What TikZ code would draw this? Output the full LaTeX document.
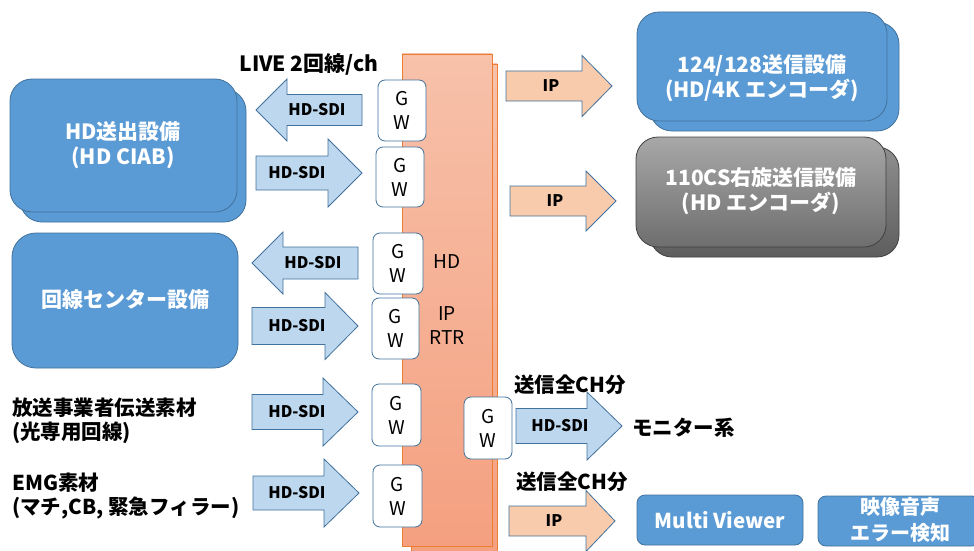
\documentclass[tikz,border=0pt]{standalone}
\usepackage{fontspec}
\setmainfont{Noto Sans CJK JP}
\definecolor{bordblue}{RGB}{65,113,156}
\definecolor{boxblue}{RGB}{91,155,213}
\definecolor{sdiblue}{RGB}{189,215,238}
\definecolor{ipfill}{RGB}{248,203,173}
\definecolor{rtrborder}{RGB}{237,125,49}
\definecolor{rtrtop}{RGB}{247,193,170}
\definecolor{rtrbot}{RGB}{244,160,128}
\definecolor{graytop}{RGB}{168,168,168}
\definecolor{graybot}{RGB}{110,110,110}
\newcommand\rarrow[8]{% style, left, headbase, tip, cy, halfbody, halfhead, name
  \draw[#1] (#2,{#5-#6}) -- (#3,{#5-#6}) -- (#3,{#5-#7}) -- (#4,#5) -- (#3,{#5+#7}) -- (#3,{#5+#6}) -- (#2,{#5+#6}) -- cycle;
  \coordinate (#8) at ({(#2+#3)/2},#5);}
\begin{document}
\begin{tikzpicture}[x=1pt,y=-1pt,
  bluebox/.style={draw=bordblue,fill=boxblue,line width=0.8pt,rounded corners=#1},
  bluebox/.default=20pt,
  gwbox/.style={draw=bordblue,fill=white,line width=0.8pt,rounded corners=7pt},
  gwtext/.style={font=\fontsize{19}{24}\selectfont,align=center,inner sep=0pt},
  sdiarrow/.style={draw=bordblue,fill=sdiblue,line width=0.8pt},
  iparrow/.style={draw=bordblue,fill=ipfill,line width=0.8pt},
  arrlabel/.style={font=\bfseries\fontsize{16}{18}\selectfont,inner sep=0pt},
  wtext/.style={text=white,font=\bfseries\fontsize{21}{25}\selectfont,align=center,inner sep=0pt},
  btext/.style={text=black,font=\bfseries\fontsize{20.5}{24}\selectfont,align=left,inner sep=0pt},
  rtr/.style={draw=rtrborder,line width=0.8pt,top color=rtrtop,bottom color=rtrbot},
]
\useasboundingbox (0,0) rectangle (974,551);

% IP router
\draw[rtr] (411,64) rectangle (497,560);
\draw[rtr] (402,54) rectangle (492,546);
\node[gwtext] (rtrhd) at (447,262) {HD};
\node[gwtext,align=center] (rtrip) at (447,326) {IP\\RTR};

% GW boxes
\foreach \n/\xa/\ya/\xb/\yb in {g1/378/80/426/141, g2/376/147/424/207, g3/373/233/423/294, g4/372/298/419/359, g5/372/384/421/446, g6/373/465/422/527, g7/464/397/512/459}{
  \draw[gwbox] (\xa,\ya) rectangle (\xb,\yb);
  \node[gwtext] (\n) at ({(\xa+\xb)/2},{(\ya+\yb)/2}) {G\\W};
}

% Left boxes
\draw[bluebox=22pt] (20,89) rectangle (246,222);
\draw[bluebox=22pt] (10,79) rectangle (237,212);
\node[wtext] (hdout) at (123,145.5) {HD送出設備\\(HD CIAB)};
\draw[bluebox=24pt] (12,233) rectangle (238,368);
\node[wtext] (center) at (125,300) {回線センター設備};

\node[btext,anchor=west] (houso) at (12,421) {放送事業者伝送素材\\(光専用回線)};
\node[btext,anchor=west] (emg) at (12,496.5) {EMG素材\\(マチ,CB, 緊急フィラー)};
\node[text=black,font=\bfseries\fontsize{21}{24}\selectfont,inner sep=0pt] (live) at (309,64) {LIVE 2回線/ch};

% HD-SDI arrows
\rarrow{sdiarrow}{362}{287}{256}{110}{15.5}{31}{a1}
\rarrow{sdiarrow}{256}{328}{362}{173}{17}{34}{a2}
\rarrow{sdiarrow}{358}{283}{252}{263}{16}{31}{a3}
\rarrow{sdiarrow}{252}{325}{358}{326}{18.5}{33.5}{a4}
\rarrow{sdiarrow}{252}{323}{358}{412}{17.5}{34}{a5}
\rarrow{sdiarrow}{253}{324}{359}{493}{17}{34}{a6}
\rarrow{sdiarrow}{516}{587}{622}{426}{17.5}{34}{a7}
\node[arrlabel] (t1) at (317,110) {HD-SDI};
\node[arrlabel] (t2) at (297,173) {HD-SDI};
\node[arrlabel] (t3) at (313,263) {HD-SDI};
\node[arrlabel] (t4) at (297,326) {HD-SDI};
\node[arrlabel] (t5) at (297,412) {HD-SDI};
\node[arrlabel] (t6) at (297,493) {HD-SDI};
\node[arrlabel] (t7) at (560,426) {HD-SDI};

% IP arrows
\rarrow{iparrow}{506}{582}{612}{86}{15}{30.5}{i1}
\rarrow{iparrow}{510}{586}{616}{201}{15}{30}{i2}
\rarrow{iparrow}{509}{586}{615}{521}{15}{30.5}{i3}
\node[arrlabel] (ti1) at (551,86) {IP};
\node[arrlabel] (ti2) at (555,201) {IP};
\node[arrlabel] (ti3) at (554,521) {IP};

% Right boxes
\draw[bluebox=22pt] (650,22) rectangle (899,131);
\draw[bluebox=22pt] (637,12) rectangle (887,121);
\node[wtext] (enc4k) at (762,78.5) {124/128送信設備\\(HD/4K エンコーダ)};
\draw[draw=black!75,line width=0.8pt,rounded corners=22pt,top color=graytop!85!black,bottom color=graybot!85!black] (650,147) rectangle (899,257);
\draw[draw=black!75,line width=0.8pt,rounded corners=22pt,top color=graytop,bottom color=graybot] (636,137) rectangle (886,247);
\node[wtext] (enchd) at (761,191) {110CS右旋送信設備\\(HD エンコーダ)};

\node[btext] (zen1) at (570,385) {送信全CH分};
\node[btext] (zen2) at (572,482) {送信全CH分};
\node[btext,anchor=west] (mon) at (632,428) {モニター系};

\draw[bluebox=8pt] (637,495) rectangle (803,545);
\node[wtext,font=\bfseries\fontsize{20.5}{24}\selectfont] (mv) at (720,520) {Multi Viewer};
\draw[bluebox=8pt] (818,496) rectangle (980,546);
\node[wtext,font=\bfseries\fontsize{20}{26}\selectfont] (err) at (900,520) {映像音声\\エラー検知};
\end{tikzpicture}
\end{document}
